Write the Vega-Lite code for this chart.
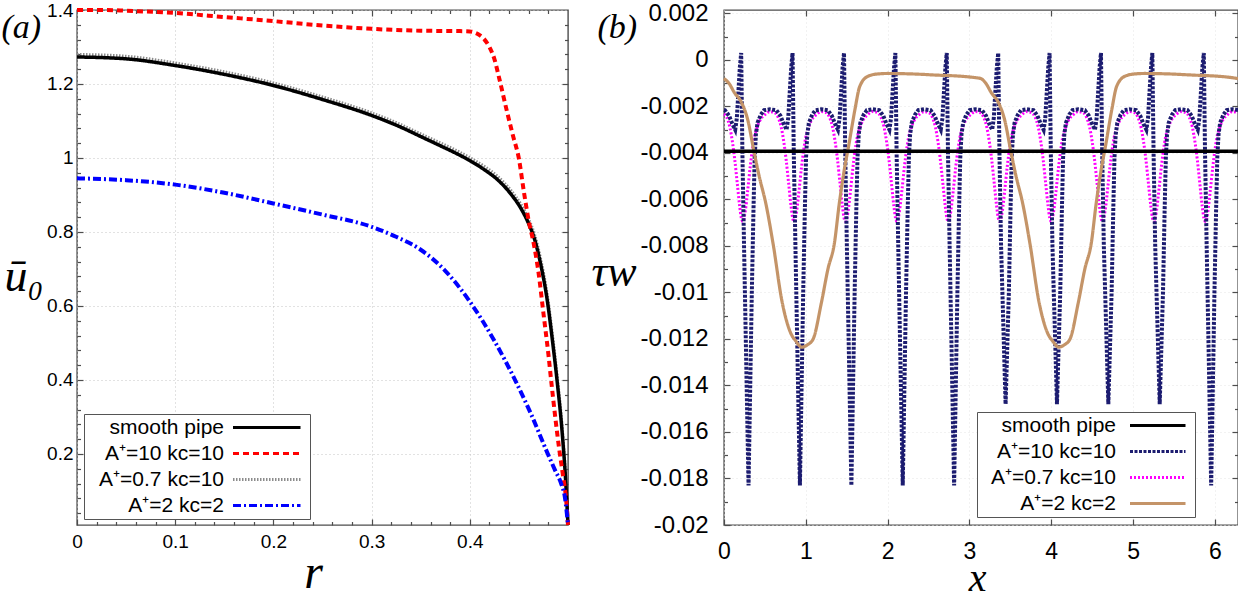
{
"$schema":"https://vega.github.io/schema/vega-lite/v6.json",
"padding":0,
"autosize":{"type":"pad"},
"background":"white",
"spacing":156,
"bounds":"flush",
"datasets":{
"L":[
{"s":"S","x":0,"y":1.273},{"s":"S","x":0.05,"y":1.268},{"s":"S","x":0.1,"y":1.25},{"s":"S","x":0.15,"y":1.226},{"s":"S","x":0.2,"y":1.196},{"s":"S","x":0.25,"y":1.158},{"s":"S","x":0.3,"y":1.115},{"s":"S","x":0.33,"y":1.083},{"s":"S","x":0.35,"y":1.058},{"s":"S","x":0.37,"y":1.033},{"s":"S","x":0.385,"y":1.014},{"s":"S","x":0.4,"y":0.993},{"s":"S","x":0.415,"y":0.968},{"s":"S","x":0.428,"y":0.942},{"s":"S","x":0.442,"y":0.902},{"s":"S","x":0.452,"y":0.864},{"s":"S","x":0.46,"y":0.822},{"s":"S","x":0.466,"y":0.78},{"s":"S","x":0.472,"y":0.715},{"s":"S","x":0.479,"y":0.613},{"s":"S","x":0.484,"y":0.51},{"s":"S","x":0.489,"y":0.395},{"s":"S","x":0.494,"y":0.26},{"s":"S","x":0.4977,"y":0.124},{"s":"S","x":0.5,"y":0.008},
{"s":"B","x":0,"y":1.28},{"s":"B","x":0.05,"y":1.275},{"s":"B","x":0.1,"y":1.257},{"s":"B","x":0.15,"y":1.233},{"s":"B","x":0.2,"y":1.203},{"s":"B","x":0.25,"y":1.165},{"s":"B","x":0.3,"y":1.122},{"s":"B","x":0.33,"y":1.09},{"s":"B","x":0.35,"y":1.065},{"s":"B","x":0.37,"y":1.041},{"s":"B","x":0.385,"y":1.022},{"s":"B","x":0.4,"y":1.001},{"s":"B","x":0.415,"y":0.977},{"s":"B","x":0.428,"y":0.951},{"s":"B","x":0.442,"y":0.912},{"s":"B","x":0.452,"y":0.875},{"s":"B","x":0.46,"y":0.834},{"s":"B","x":0.466,"y":0.793},{"s":"B","x":0.472,"y":0.729},{"s":"B","x":0.479,"y":0.628},{"s":"B","x":0.484,"y":0.526},{"s":"B","x":0.489,"y":0.41},{"s":"B","x":0.494,"y":0.275},{"s":"B","x":0.4977,"y":0.135},{"s":"B","x":0.5,"y":0.008},
{"s":"A","x":0,"y":1.4},{"s":"A","x":0.03,"y":1.4},{"s":"A","x":0.05,"y":1.398},{"s":"A","x":0.1,"y":1.392},{"s":"A","x":0.15,"y":1.381},{"s":"A","x":0.2,"y":1.37},{"s":"A","x":0.25,"y":1.358},{"s":"A","x":0.3,"y":1.349},{"s":"A","x":0.35,"y":1.344},{"s":"A","x":0.39,"y":1.343},{"s":"A","x":0.4,"y":1.342},{"s":"A","x":0.405,"y":1.339},{"s":"A","x":0.41,"y":1.332},{"s":"A","x":0.415,"y":1.32},{"s":"A","x":0.42,"y":1.3},{"s":"A","x":0.425,"y":1.268},{"s":"A","x":0.43,"y":1.215},{"s":"A","x":0.438,"y":1.124},{"s":"A","x":0.444,"y":1.06},{"s":"A","x":0.45,"y":0.998},{"s":"A","x":0.455,"y":0.91},{"s":"A","x":0.46,"y":0.83},{"s":"A","x":0.465,"y":0.77},{"s":"A","x":0.47,"y":0.69},{"s":"A","x":0.475,"y":0.58},{"s":"A","x":0.48,"y":0.47},{"s":"A","x":0.483,"y":0.395},{"s":"A","x":0.487,"y":0.3},{"s":"A","x":0.491,"y":0.214},{"s":"A","x":0.495,"y":0.14},{"s":"A","x":0.498,"y":0.08},{"s":"A","x":0.5,"y":0.008},
{"s":"C","x":0,"y":0.945},{"s":"C","x":0.05,"y":0.94},{"s":"C","x":0.1,"y":0.928},{"s":"C","x":0.15,"y":0.906},{"s":"C","x":0.2,"y":0.877},{"s":"C","x":0.25,"y":0.847},{"s":"C","x":0.3,"y":0.814},{"s":"C","x":0.325,"y":0.787},{"s":"C","x":0.35,"y":0.752},{"s":"C","x":0.375,"y":0.695},{"s":"C","x":0.4,"y":0.612},{"s":"C","x":0.425,"y":0.506},{"s":"C","x":0.447,"y":0.395},{"s":"C","x":0.462,"y":0.31},{"s":"C","x":0.479,"y":0.203},{"s":"C","x":0.487,"y":0.155},{"s":"C","x":0.493,"y":0.12},{"s":"C","x":0.497,"y":0.08},{"s":"C","x":0.5,"y":0.008}
],
"R":[
{"s":"S","x":0,"y":-0.00393},{"s":"S","x":6.283,"y":-0.00393},
{"s":"A","x":0,"y":-0.00215},{"s":"A","x":0.012,"y":-0.00216},{"s":"A","x":0.062,"y":-0.0024},{"s":"A","x":0.102,"y":-0.00275},{"s":"A","x":0.137,"y":-0.003},{"s":"A","x":0.157,"y":-0.0025},{"s":"A","x":0.177,"y":-0.0013},{"s":"A","x":0.194,"y":-0.0003},
{"s":"A","x":0.21,"y":0.0003},{"s":"A","x":0.225,"y":-0.004},{"s":"A","x":0.245,"y":-0.008},{"s":"A","x":0.3,"y":-0.0183},{"s":"A","x":0.34,"y":-0.01},{"s":"A","x":0.36,"y":-0.0065},{"s":"A","x":0.375,"y":-0.0042},{"s":"A","x":0.39,"y":-0.0032},{"s":"A","x":0.41,"y":-0.0027},{"s":"A","x":0.45,"y":-0.00235},{"s":"A","x":0.49,"y":-0.00216},{"s":"A","x":0.56,"y":-0.00212},{"s":"A","x":0.64,"y":-0.00216},{"s":"A","x":0.69,"y":-0.0024},{"s":"A","x":0.73,"y":-0.00275},{"s":"A","x":0.765,"y":-0.003},{"s":"A","x":0.785,"y":-0.0025},{"s":"A","x":0.805,"y":-0.0013},{"s":"A","x":0.822,"y":-0.0003},
{"s":"A","x":0.838,"y":0.0003},{"s":"A","x":0.853,"y":-0.004},{"s":"A","x":0.873,"y":-0.008},{"s":"A","x":0.928,"y":-0.0183},{"s":"A","x":0.968,"y":-0.01},{"s":"A","x":0.988,"y":-0.0065},{"s":"A","x":1.003,"y":-0.0042},{"s":"A","x":1.018,"y":-0.0032},{"s":"A","x":1.038,"y":-0.0027},{"s":"A","x":1.078,"y":-0.00235},{"s":"A","x":1.118,"y":-0.00216},{"s":"A","x":1.188,"y":-0.00212},{"s":"A","x":1.268,"y":-0.00216},{"s":"A","x":1.318,"y":-0.0024},{"s":"A","x":1.358,"y":-0.00275},{"s":"A","x":1.393,"y":-0.003},{"s":"A","x":1.413,"y":-0.0025},{"s":"A","x":1.433,"y":-0.0013},{"s":"A","x":1.45,"y":-0.0003},
{"s":"A","x":1.467,"y":0.0003},{"s":"A","x":1.482,"y":-0.004},{"s":"A","x":1.502,"y":-0.008},{"s":"A","x":1.557,"y":-0.0183},{"s":"A","x":1.597,"y":-0.01},{"s":"A","x":1.617,"y":-0.0065},{"s":"A","x":1.632,"y":-0.0042},{"s":"A","x":1.647,"y":-0.0032},{"s":"A","x":1.667,"y":-0.0027},{"s":"A","x":1.707,"y":-0.00235},{"s":"A","x":1.747,"y":-0.00216},{"s":"A","x":1.817,"y":-0.00212},{"s":"A","x":1.897,"y":-0.00216},{"s":"A","x":1.947,"y":-0.0024},{"s":"A","x":1.987,"y":-0.00275},{"s":"A","x":2.022,"y":-0.003},{"s":"A","x":2.042,"y":-0.0025},{"s":"A","x":2.062,"y":-0.0013},{"s":"A","x":2.079,"y":-0.0003},
{"s":"A","x":2.095,"y":0.0003},{"s":"A","x":2.11,"y":-0.004},{"s":"A","x":2.13,"y":-0.008},{"s":"A","x":2.185,"y":-0.0183},{"s":"A","x":2.225,"y":-0.01},{"s":"A","x":2.245,"y":-0.0065},{"s":"A","x":2.26,"y":-0.0042},{"s":"A","x":2.275,"y":-0.0032},{"s":"A","x":2.295,"y":-0.0027},{"s":"A","x":2.335,"y":-0.00235},{"s":"A","x":2.375,"y":-0.00216},{"s":"A","x":2.445,"y":-0.00212},{"s":"A","x":2.525,"y":-0.00216},{"s":"A","x":2.575,"y":-0.0024},{"s":"A","x":2.615,"y":-0.00275},{"s":"A","x":2.65,"y":-0.003},{"s":"A","x":2.67,"y":-0.0025},{"s":"A","x":2.69,"y":-0.0013},{"s":"A","x":2.707,"y":-0.0003},
{"s":"A","x":2.723,"y":0.0003},{"s":"A","x":2.738,"y":-0.004},{"s":"A","x":2.758,"y":-0.008},{"s":"A","x":2.813,"y":-0.0183},{"s":"A","x":2.853,"y":-0.01},{"s":"A","x":2.873,"y":-0.0065},{"s":"A","x":2.888,"y":-0.0042},{"s":"A","x":2.903,"y":-0.0032},{"s":"A","x":2.923,"y":-0.0027},{"s":"A","x":2.963,"y":-0.00235},{"s":"A","x":3.003,"y":-0.00216},{"s":"A","x":3.073,"y":-0.00212},{"s":"A","x":3.153,"y":-0.00216},{"s":"A","x":3.203,"y":-0.0024},{"s":"A","x":3.243,"y":-0.00275},{"s":"A","x":3.278,"y":-0.003},{"s":"A","x":3.298,"y":-0.0025},{"s":"A","x":3.318,"y":-0.0013},{"s":"A","x":3.335,"y":-0.0003},
{"s":"A","x":3.352,"y":0.0003},{"s":"A","x":3.367,"y":-0.004},{"s":"A","x":3.387,"y":-0.008},{"s":"A","x":3.442,"y":-0.0148},{"s":"A","x":3.482,"y":-0.01},{"s":"A","x":3.502,"y":-0.0065},{"s":"A","x":3.517,"y":-0.0042},{"s":"A","x":3.532,"y":-0.0032},{"s":"A","x":3.552,"y":-0.0027},{"s":"A","x":3.592,"y":-0.00235},{"s":"A","x":3.632,"y":-0.00216},{"s":"A","x":3.702,"y":-0.00212},{"s":"A","x":3.782,"y":-0.00216},{"s":"A","x":3.832,"y":-0.0024},{"s":"A","x":3.872,"y":-0.00275},{"s":"A","x":3.907,"y":-0.003},{"s":"A","x":3.927,"y":-0.0025},{"s":"A","x":3.947,"y":-0.0013},{"s":"A","x":3.964,"y":-0.0003},
{"s":"A","x":3.98,"y":0.0003},{"s":"A","x":3.995,"y":-0.004},{"s":"A","x":4.015,"y":-0.008},{"s":"A","x":4.07,"y":-0.0148},{"s":"A","x":4.11,"y":-0.01},{"s":"A","x":4.13,"y":-0.0065},{"s":"A","x":4.145,"y":-0.0042},{"s":"A","x":4.16,"y":-0.0032},{"s":"A","x":4.18,"y":-0.0027},{"s":"A","x":4.22,"y":-0.00235},{"s":"A","x":4.26,"y":-0.00216},{"s":"A","x":4.33,"y":-0.00212},{"s":"A","x":4.41,"y":-0.00216},{"s":"A","x":4.46,"y":-0.0024},{"s":"A","x":4.5,"y":-0.00275},{"s":"A","x":4.535,"y":-0.003},{"s":"A","x":4.555,"y":-0.0025},{"s":"A","x":4.575,"y":-0.0013},{"s":"A","x":4.592,"y":-0.0003},
{"s":"A","x":4.608,"y":0.0003},{"s":"A","x":4.623,"y":-0.004},{"s":"A","x":4.643,"y":-0.008},{"s":"A","x":4.698,"y":-0.0148},{"s":"A","x":4.738,"y":-0.01},{"s":"A","x":4.758,"y":-0.0065},{"s":"A","x":4.773,"y":-0.0042},{"s":"A","x":4.788,"y":-0.0032},{"s":"A","x":4.808,"y":-0.0027},{"s":"A","x":4.848,"y":-0.00235},{"s":"A","x":4.888,"y":-0.00216},{"s":"A","x":4.958,"y":-0.00212},{"s":"A","x":5.038,"y":-0.00216},{"s":"A","x":5.088,"y":-0.0024},{"s":"A","x":5.128,"y":-0.00275},{"s":"A","x":5.163,"y":-0.003},{"s":"A","x":5.183,"y":-0.0025},{"s":"A","x":5.203,"y":-0.0013},{"s":"A","x":5.22,"y":-0.0003},
{"s":"A","x":5.236,"y":0.0003},{"s":"A","x":5.251,"y":-0.004},{"s":"A","x":5.271,"y":-0.008},{"s":"A","x":5.326,"y":-0.0148},{"s":"A","x":5.366,"y":-0.01},{"s":"A","x":5.386,"y":-0.0065},{"s":"A","x":5.401,"y":-0.0042},{"s":"A","x":5.416,"y":-0.0032},{"s":"A","x":5.436,"y":-0.0027},{"s":"A","x":5.476,"y":-0.00235},{"s":"A","x":5.516,"y":-0.00216},{"s":"A","x":5.586,"y":-0.00212},{"s":"A","x":5.666,"y":-0.00216},{"s":"A","x":5.716,"y":-0.0024},{"s":"A","x":5.756,"y":-0.00275},{"s":"A","x":5.791,"y":-0.003},{"s":"A","x":5.811,"y":-0.0025},{"s":"A","x":5.831,"y":-0.0013},{"s":"A","x":5.848,"y":-0.0003},
{"s":"A","x":5.865,"y":0.0003},{"s":"A","x":5.88,"y":-0.004},{"s":"A","x":5.9,"y":-0.008},{"s":"A","x":5.955,"y":-0.0183},{"s":"A","x":5.995,"y":-0.01},{"s":"A","x":6.015,"y":-0.0065},{"s":"A","x":6.03,"y":-0.0042},{"s":"A","x":6.045,"y":-0.0032},{"s":"A","x":6.065,"y":-0.0027},{"s":"A","x":6.105,"y":-0.00235},{"s":"A","x":6.145,"y":-0.00216},{"s":"A","x":6.215,"y":-0.00212},{"s":"A","x":6.283,"y":-0.00215},
{"s":"B","x":0,"y":-0.00233},{"s":"B","x":0.032,"y":-0.00245},{"s":"B","x":0.072,"y":-0.0029},{"s":"B","x":0.102,"y":-0.0035},{"s":"B","x":0.132,"y":-0.0043},{"s":"B","x":0.162,"y":-0.0053},{"s":"B","x":0.192,"y":-0.0063},{"s":"B","x":0.212,"y":-0.0068},
{"s":"B","x":0.23,"y":-0.00695},{"s":"B","x":0.26,"y":-0.0065},{"s":"B","x":0.29,"y":-0.0056},{"s":"B","x":0.32,"y":-0.0046},{"s":"B","x":0.345,"y":-0.0039},{"s":"B","x":0.37,"y":-0.00335},{"s":"B","x":0.4,"y":-0.00295},{"s":"B","x":0.44,"y":-0.0026},{"s":"B","x":0.5,"y":-0.00235},{"s":"B","x":0.56,"y":-0.00222},{"s":"B","x":0.61,"y":-0.00225},{"s":"B","x":0.66,"y":-0.00245},{"s":"B","x":0.7,"y":-0.0029},{"s":"B","x":0.73,"y":-0.0035},{"s":"B","x":0.76,"y":-0.0043},{"s":"B","x":0.79,"y":-0.0053},{"s":"B","x":0.82,"y":-0.0063},{"s":"B","x":0.84,"y":-0.0068},
{"s":"B","x":0.858,"y":-0.00695},{"s":"B","x":0.888,"y":-0.0065},{"s":"B","x":0.918,"y":-0.0056},{"s":"B","x":0.948,"y":-0.0046},{"s":"B","x":0.973,"y":-0.0039},{"s":"B","x":0.998,"y":-0.00335},{"s":"B","x":1.028,"y":-0.00295},{"s":"B","x":1.068,"y":-0.0026},{"s":"B","x":1.128,"y":-0.00235},{"s":"B","x":1.188,"y":-0.00222},{"s":"B","x":1.238,"y":-0.00225},{"s":"B","x":1.288,"y":-0.00245},{"s":"B","x":1.328,"y":-0.0029},{"s":"B","x":1.358,"y":-0.0035},{"s":"B","x":1.388,"y":-0.0043},{"s":"B","x":1.418,"y":-0.0053},{"s":"B","x":1.448,"y":-0.0063},{"s":"B","x":1.468,"y":-0.0068},
{"s":"B","x":1.487,"y":-0.00695},{"s":"B","x":1.517,"y":-0.0065},{"s":"B","x":1.547,"y":-0.0056},{"s":"B","x":1.577,"y":-0.0046},{"s":"B","x":1.602,"y":-0.0039},{"s":"B","x":1.627,"y":-0.00335},{"s":"B","x":1.657,"y":-0.00295},{"s":"B","x":1.697,"y":-0.0026},{"s":"B","x":1.757,"y":-0.00235},{"s":"B","x":1.817,"y":-0.00222},{"s":"B","x":1.867,"y":-0.00225},{"s":"B","x":1.917,"y":-0.00245},{"s":"B","x":1.957,"y":-0.0029},{"s":"B","x":1.987,"y":-0.0035},{"s":"B","x":2.017,"y":-0.0043},{"s":"B","x":2.047,"y":-0.0053},{"s":"B","x":2.077,"y":-0.0063},{"s":"B","x":2.097,"y":-0.0068},
{"s":"B","x":2.115,"y":-0.00695},{"s":"B","x":2.145,"y":-0.0065},{"s":"B","x":2.175,"y":-0.0056},{"s":"B","x":2.205,"y":-0.0046},{"s":"B","x":2.23,"y":-0.0039},{"s":"B","x":2.255,"y":-0.00335},{"s":"B","x":2.285,"y":-0.00295},{"s":"B","x":2.325,"y":-0.0026},{"s":"B","x":2.385,"y":-0.00235},{"s":"B","x":2.445,"y":-0.00222},{"s":"B","x":2.495,"y":-0.00225},{"s":"B","x":2.545,"y":-0.00245},{"s":"B","x":2.585,"y":-0.0029},{"s":"B","x":2.615,"y":-0.0035},{"s":"B","x":2.645,"y":-0.0043},{"s":"B","x":2.675,"y":-0.0053},{"s":"B","x":2.705,"y":-0.0063},{"s":"B","x":2.725,"y":-0.0068},
{"s":"B","x":2.743,"y":-0.00695},{"s":"B","x":2.773,"y":-0.0065},{"s":"B","x":2.803,"y":-0.0056},{"s":"B","x":2.833,"y":-0.0046},{"s":"B","x":2.858,"y":-0.0039},{"s":"B","x":2.883,"y":-0.00335},{"s":"B","x":2.913,"y":-0.00295},{"s":"B","x":2.953,"y":-0.0026},{"s":"B","x":3.013,"y":-0.00235},{"s":"B","x":3.073,"y":-0.00222},{"s":"B","x":3.123,"y":-0.00225},{"s":"B","x":3.173,"y":-0.00245},{"s":"B","x":3.213,"y":-0.0029},{"s":"B","x":3.243,"y":-0.0035},{"s":"B","x":3.273,"y":-0.0043},{"s":"B","x":3.303,"y":-0.0053},{"s":"B","x":3.333,"y":-0.0063},{"s":"B","x":3.353,"y":-0.0068},
{"s":"B","x":3.372,"y":-0.00695},{"s":"B","x":3.402,"y":-0.0065},{"s":"B","x":3.432,"y":-0.0056},{"s":"B","x":3.462,"y":-0.0046},{"s":"B","x":3.487,"y":-0.0039},{"s":"B","x":3.512,"y":-0.00335},{"s":"B","x":3.542,"y":-0.00295},{"s":"B","x":3.582,"y":-0.0026},{"s":"B","x":3.642,"y":-0.00235},{"s":"B","x":3.702,"y":-0.00222},{"s":"B","x":3.752,"y":-0.00225},{"s":"B","x":3.802,"y":-0.00245},{"s":"B","x":3.842,"y":-0.0029},{"s":"B","x":3.872,"y":-0.0035},{"s":"B","x":3.902,"y":-0.0043},{"s":"B","x":3.932,"y":-0.0053},{"s":"B","x":3.962,"y":-0.0063},{"s":"B","x":3.982,"y":-0.0068},
{"s":"B","x":4.0,"y":-0.00695},{"s":"B","x":4.03,"y":-0.0065},{"s":"B","x":4.06,"y":-0.0056},{"s":"B","x":4.09,"y":-0.0046},{"s":"B","x":4.115,"y":-0.0039},{"s":"B","x":4.14,"y":-0.00335},{"s":"B","x":4.17,"y":-0.00295},{"s":"B","x":4.21,"y":-0.0026},{"s":"B","x":4.27,"y":-0.00235},{"s":"B","x":4.33,"y":-0.00222},{"s":"B","x":4.38,"y":-0.00225},{"s":"B","x":4.43,"y":-0.00245},{"s":"B","x":4.47,"y":-0.0029},{"s":"B","x":4.5,"y":-0.0035},{"s":"B","x":4.53,"y":-0.0043},{"s":"B","x":4.56,"y":-0.0053},{"s":"B","x":4.59,"y":-0.0063},{"s":"B","x":4.61,"y":-0.0068},
{"s":"B","x":4.628,"y":-0.00695},{"s":"B","x":4.658,"y":-0.0065},{"s":"B","x":4.688,"y":-0.0056},{"s":"B","x":4.718,"y":-0.0046},{"s":"B","x":4.743,"y":-0.0039},{"s":"B","x":4.768,"y":-0.00335},{"s":"B","x":4.798,"y":-0.00295},{"s":"B","x":4.838,"y":-0.0026},{"s":"B","x":4.898,"y":-0.00235},{"s":"B","x":4.958,"y":-0.00222},{"s":"B","x":5.008,"y":-0.00225},{"s":"B","x":5.058,"y":-0.00245},{"s":"B","x":5.098,"y":-0.0029},{"s":"B","x":5.128,"y":-0.0035},{"s":"B","x":5.158,"y":-0.0043},{"s":"B","x":5.188,"y":-0.0053},{"s":"B","x":5.218,"y":-0.0063},{"s":"B","x":5.238,"y":-0.0068},
{"s":"B","x":5.256,"y":-0.00695},{"s":"B","x":5.286,"y":-0.0065},{"s":"B","x":5.316,"y":-0.0056},{"s":"B","x":5.346,"y":-0.0046},{"s":"B","x":5.371,"y":-0.0039},{"s":"B","x":5.396,"y":-0.00335},{"s":"B","x":5.426,"y":-0.00295},{"s":"B","x":5.466,"y":-0.0026},{"s":"B","x":5.526,"y":-0.00235},{"s":"B","x":5.586,"y":-0.00222},{"s":"B","x":5.636,"y":-0.00225},{"s":"B","x":5.686,"y":-0.00245},{"s":"B","x":5.726,"y":-0.0029},{"s":"B","x":5.756,"y":-0.0035},{"s":"B","x":5.786,"y":-0.0043},{"s":"B","x":5.816,"y":-0.0053},{"s":"B","x":5.846,"y":-0.0063},{"s":"B","x":5.866,"y":-0.0068},
{"s":"B","x":5.885,"y":-0.00695},{"s":"B","x":5.915,"y":-0.0065},{"s":"B","x":5.945,"y":-0.0056},{"s":"B","x":5.975,"y":-0.0046},{"s":"B","x":6.0,"y":-0.0039},{"s":"B","x":6.025,"y":-0.00335},{"s":"B","x":6.055,"y":-0.00295},{"s":"B","x":6.095,"y":-0.0026},{"s":"B","x":6.155,"y":-0.00235},{"s":"B","x":6.215,"y":-0.00222},{"s":"B","x":6.265,"y":-0.00225},{"s":"B","x":6.283,"y":-0.00228},
{"s":"C","x":0,"y":-0.0008},{"s":"C","x":0.06,"y":-0.001},{"s":"C","x":0.13,"y":-0.00142},{"s":"C","x":0.21,"y":-0.0018},{"s":"C","x":0.29,"y":-0.00257},{"s":"C","x":0.37,"y":-0.004},{"s":"C","x":0.43,"y":-0.005},{"s":"C","x":0.51,"y":-0.00615},{"s":"C","x":0.6,"y":-0.0079},{"s":"C","x":0.71,"y":-0.0104},{"s":"C","x":0.81,"y":-0.0117},{"s":"C","x":0.88,"y":-0.0121},{"s":"C","x":0.95,"y":-0.01235},{"s":"C","x":1.02,"y":-0.01225},{"s":"C","x":1.09,"y":-0.012},{"s":"C","x":1.19,"y":-0.01045},{"s":"C","x":1.27,"y":-0.009},{"s":"C","x":1.35,"y":-0.00787},{"s":"C","x":1.41,"y":-0.00615},{"s":"C","x":1.47,"y":-0.00473},{"s":"C","x":1.53,"y":-0.00357},{"s":"C","x":1.6,"y":-0.00214},{"s":"C","x":1.66,"y":-0.00113},{"s":"C","x":1.76,"y":-0.0007},{"s":"C","x":1.88,"y":-0.0006},{"s":"C","x":2.0,"y":-0.00058},{"s":"C","x":2.3,"y":-0.0006},{"s":"C","x":2.6,"y":-0.00065},{"s":"C","x":2.9,"y":-0.0007},{"s":"C","x":3.05,"y":-0.00075},
{"s":"C","x":3.14,"y":-0.0008},{"s":"C","x":3.2,"y":-0.001},{"s":"C","x":3.27,"y":-0.00142},{"s":"C","x":3.35,"y":-0.0018},{"s":"C","x":3.43,"y":-0.00257},{"s":"C","x":3.51,"y":-0.004},{"s":"C","x":3.57,"y":-0.005},{"s":"C","x":3.65,"y":-0.00615},{"s":"C","x":3.74,"y":-0.0079},{"s":"C","x":3.85,"y":-0.0104},{"s":"C","x":3.95,"y":-0.0117},{"s":"C","x":4.02,"y":-0.0121},{"s":"C","x":4.09,"y":-0.01235},{"s":"C","x":4.16,"y":-0.01225},{"s":"C","x":4.23,"y":-0.012},{"s":"C","x":4.33,"y":-0.01045},{"s":"C","x":4.41,"y":-0.009},{"s":"C","x":4.49,"y":-0.00787},{"s":"C","x":4.55,"y":-0.00615},{"s":"C","x":4.61,"y":-0.00473},{"s":"C","x":4.67,"y":-0.00357},{"s":"C","x":4.74,"y":-0.00214},{"s":"C","x":4.8,"y":-0.00113},{"s":"C","x":4.9,"y":-0.0007},{"s":"C","x":5.02,"y":-0.0006},{"s":"C","x":5.14,"y":-0.00058},{"s":"C","x":5.44,"y":-0.0006},{"s":"C","x":5.74,"y":-0.00065},{"s":"C","x":6.04,"y":-0.0007},{"s":"C","x":6.19,"y":-0.00075},{"s":"C","x":6.283,"y":-0.0008}
]
},
"hconcat":[
{
"width":491,"height":515,
"data":{"name":"L"},
"encoding":{
"color":{"field":"s","type":"nominal","scale":{"domain":["S","A","B","C"],"range":["#000000","#ff0000","#8c8c8c","#0000ff"]},
"legend":{"orient":"none","legendX":7,"legendY":404,"title":null,"symbolType":"M135.5,0H203","symbolSize":4,"symbolStrokeWidth":3,"rowPadding":4,"labelFontSize":21,"labelAlign":"right","labelOffset":116,"padding":3,"strokeColor":"#555555","fillColor":"#ffffff","labelLimit":400,
"labelExpr":"datum.label == 'S' ? 'smooth pipe' : datum.label == 'A' ? 'A⁺=10 kc=10' : datum.label == 'B' ? 'A⁺=0.7 kc=10' : 'A⁺=2 kc=2'"}},
"strokeDash":{"field":"s","type":"nominal","scale":{"domain":["S","A","B","C"],"range":[[1,0],[6,4],[1.5,1.5],[8,3,2,3]]}}
},
"layer":[
{"transform":[{"filter":{"field":"s","equal":"B"}}],
"mark":{"type":"line","strokeWidth":3,"interpolate":"monotone"},
"encoding":{
"x":{"field":"x","type":"quantitative","scale":{"domain":[0,0.5],"nice":false,"zero":false},
"axis":{"orient":"bottom","values":[0,0.1,0.2,0.3,0.4],"format":"~g","labelFontSize":19,"labelPadding":13,"tickSize":-6,"grid":true,"title":"r","titleFontSize":48,"titleX":236,"titleY":62,"titleAlign":"center","titleBaseline":"alphabetic"}},
"y":{"field":"y","type":"quantitative","scale":{"domain":[0.008,1.4],"nice":false,"zero":false},
"axis":{"orient":"left","values":[0.2,0.4,0.6,0.8,1,1.2,1.4],"format":"~g","labelFontSize":19,"labelPadding":10,"tickSize":-6,"grid":true,"title":"ū₀","titleFontSize":46,"titleAngle":0,"titleAlign":"left","titleBaseline":"alphabetic","titleX":-73,"titleY":280}}
}},
{"transform":[{"filter":{"field":"s","equal":"S"}}],
"mark":{"type":"line","strokeWidth":3.5,"interpolate":"monotone"},
"encoding":{
"x":{"field":"x","type":"quantitative","scale":{"domain":[0,0.5],"nice":false,"zero":false},
"axis":{"orient":"top","values":[0.1,0.2,0.3,0.4],"labels":false,"tickSize":-6,"grid":false,"title":null}},
"y":{"field":"y","type":"quantitative","scale":{"domain":[0.008,1.4],"nice":false,"zero":false},
"axis":{"orient":"right","values":[0.2,0.4,0.6,0.8,1,1.2],"labels":false,"tickSize":-6,"grid":false,"title":null}}
}},
{"transform":[{"filter":{"field":"s","equal":"A"}}],
"mark":{"type":"line","strokeWidth":4,"interpolate":"monotone"},
"encoding":{
"x":{"field":"x","type":"quantitative","scale":{"domain":[0,0.5],"nice":false,"zero":false},
"axis":{"orient":"bottom","values":[0.02,0.04,0.06,0.08,0.12,0.14,0.16,0.18,0.22,0.24,0.26,0.28,0.32,0.34,0.36,0.38,0.42,0.44,0.46,0.48],"labels":false,"tickSize":-3.5,"grid":false,"title":null}},
"y":{"field":"y","type":"quantitative","scale":{"domain":[0.008,1.4],"nice":false,"zero":false},
"axis":{"orient":"left","values":[0.04,0.08,0.12,0.16,0.24,0.28,0.32,0.36,0.44,0.48,0.52,0.56,0.64,0.68,0.72,0.76,0.84,0.88,0.92,0.96,1.04,1.08,1.12,1.16,1.24,1.28,1.32,1.36],"labels":false,"tickSize":-3.5,"grid":false,"title":"(a)","titleFontSize":34,"titleAngle":0,"titleAlign":"left","titleBaseline":"top","titleX":-76,"titleY":0}}
}},
{"transform":[{"filter":{"field":"s","equal":"C"}}],
"mark":{"type":"line","strokeWidth":4,"interpolate":"monotone"},
"encoding":{
"x":{"field":"x","type":"quantitative","scale":{"domain":[0,0.5],"nice":false,"zero":false},
"axis":{"orient":"top","values":[0.02,0.04,0.06,0.08,0.12,0.14,0.16,0.18,0.22,0.24,0.26,0.28,0.32,0.34,0.36,0.38,0.42,0.44,0.46,0.48],"labels":false,"tickSize":-3.5,"grid":false,"title":null}},
"y":{"field":"y","type":"quantitative","scale":{"domain":[0.008,1.4],"nice":false,"zero":false},
"axis":{"orient":"right","values":[0.04,0.08,0.12,0.16,0.24,0.28,0.32,0.36,0.44,0.48,0.52,0.56,0.64,0.68,0.72,0.76,0.84,0.88,0.92,0.96,1.04,1.08,1.12,1.16,1.24,1.28,1.32,1.36],"labels":false,"tickSize":-3.5,"grid":false,"title":null}}
}}
],
"resolve":{"axis":{"x":"independent","y":"independent"}}
},
{
"width":514,"height":515,
"data":{"name":"R"},
"encoding":{
"color":{"field":"s","type":"nominal","scale":{"domain":["S","A","B","C"],"range":["#000000","#1c1c70","#ff00ff","#c49468"]},
"legend":{"orient":"none","legendX":253,"legendY":402,"title":null,"symbolType":"M139.5,0H195","symbolSize":4,"symbolStrokeWidth":3,"rowPadding":4,"labelFontSize":21,"labelAlign":"right","labelOffset":115,"padding":3,"strokeColor":"#555555","fillColor":"#ffffff","labelLimit":400,
"labelExpr":"datum.label == 'S' ? 'smooth pipe' : datum.label == 'A' ? 'A⁺=10 kc=10' : datum.label == 'B' ? 'A⁺=0.7 kc=10' : 'A⁺=2 kc=2'"}},
"strokeDash":{"field":"s","type":"nominal","scale":{"domain":["S","A","B","C"],"range":[[1,0],[3,1.5],[2,2],[1,0]]}}
},
"layer":[
{"transform":[{"filter":{"field":"s","equal":"B"}}],
"mark":{"type":"line","strokeWidth":3,"interpolate":"monotone"},
"encoding":{
"x":{"field":"x","type":"quantitative","scale":{"domain":[0,6.283],"nice":false,"zero":false},
"axis":{"orient":"bottom","values":[0,1,2,3,4,5,6],"format":"~g","labelFontSize":23,"labelPadding":21,"tickSize":-6,"grid":true,"gridColor":"#e4e4e4","title":"x","titleFontSize":40,"titleX":253,"titleY":65,"titleAlign":"center","titleBaseline":"alphabetic"}},
"y":{"field":"y","type":"quantitative","scale":{"domain":[-0.02,0.00215],"nice":false,"zero":false},
"axis":{"orient":"left","values":[-0.02,-0.018,-0.016,-0.014,-0.012,-0.01,-0.008,-0.006,-0.004,-0.002,0,0.002],"labelExpr":"replace(format(datum.value, '~g'), '−', '-')","labelFontSize":24,"labelPadding":22,"tickSize":-6,"grid":true,"gridColor":"#e4e4e4","title":"τw","titleFontSize":44,"titleAngle":0,"titleAlign":"left","titleBaseline":"alphabetic","titleX":-133,"titleY":275}}
}},
{"transform":[{"filter":{"field":"s","equal":"A"}}],
"mark":{"type":"line","strokeWidth":4,"interpolate":"linear"},
"encoding":{
"x":{"field":"x","type":"quantitative","scale":{"domain":[0,6.283],"nice":false,"zero":false},
"axis":{"orient":"top","values":[1,2,3,4,5,6],"labels":false,"tickSize":-6,"grid":false,"title":null}},
"y":{"field":"y","type":"quantitative","scale":{"domain":[-0.02,0.00215],"nice":false,"zero":false},
"axis":{"orient":"right","values":[-0.018,-0.016,-0.014,-0.012,-0.01,-0.008,-0.006,-0.004,-0.002,0,0.002],"labels":false,"tickSize":-6,"grid":false,"title":null}}
}},
{"transform":[{"filter":{"field":"s","equal":"C"}}],
"mark":{"type":"line","strokeWidth":3.2,"interpolate":"monotone"},
"encoding":{
"x":{"field":"x","type":"quantitative","scale":{"domain":[0,6.283],"nice":false,"zero":false},"axis":null},
"y":{"field":"y","type":"quantitative","scale":{"domain":[-0.02,0.00215],"nice":false,"zero":false},
"axis":{"orient":"left","values":[-0.019,-0.017,-0.015,-0.013,-0.011,-0.009,-0.007,-0.005,-0.003,-0.001,0.001],"labels":false,"tickSize":-3.5,"grid":false,"title":"(b)","titleFontSize":34,"titleAngle":0,"titleAlign":"left","titleBaseline":"top","titleX":-127,"titleY":0}}
}},
{"transform":[{"filter":{"field":"s","equal":"S"}}],
"mark":{"type":"line","strokeWidth":3.5},
"encoding":{
"x":{"field":"x","type":"quantitative","scale":{"domain":[0,6.283],"nice":false,"zero":false},"axis":null},
"y":{"field":"y","type":"quantitative","scale":{"domain":[-0.02,0.00215],"nice":false,"zero":false},
"axis":{"orient":"right","values":[-0.019,-0.017,-0.015,-0.013,-0.011,-0.009,-0.007,-0.005,-0.003,-0.001,0.001],"labels":false,"tickSize":-3.5,"grid":false,"title":null}}
}}
],
"resolve":{"axis":{"x":"independent","y":"independent"}}
}
],
"resolve":{"scale":{"color":"independent","strokeDash":"independent"}},
"config":{
"view":{"stroke":"#4d4d4d","strokeWidth":1.4},
"axis":{"domain":false,"labelFont":"Liberation Sans","labelColor":"#000000","titleFont":"Liberation Serif","titleFontStyle":"italic","titleFontWeight":"normal","titleColor":"#000000","tickColor":"#4d4d4d","tickWidth":1.2,"gridColor":"#c4c4c4","gridDash":[1,3],"gridWidth":1,"labelFlush":false,"labelOverlap":false},
"legend":{"labelFont":"Liberation Sans","labelColor":"#000000"},
"line":{"strokeCap":"butt"}
}
}
